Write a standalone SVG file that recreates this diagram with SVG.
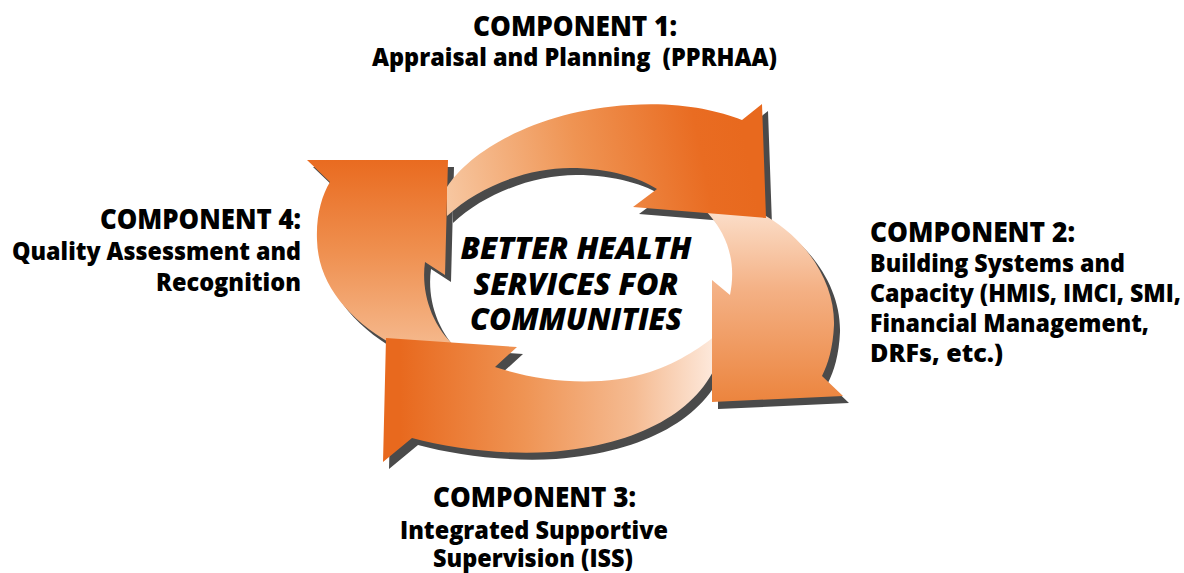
<svg xmlns="http://www.w3.org/2000/svg" xmlns:xlink="http://www.w3.org/1999/xlink" width="1184" height="573" viewBox="0 0 1184 573">
<style>
.t{font-family:"Open Sans","Liberation Sans",Arial,sans-serif;font-weight:800;fill:#000;}
.h{font-size:28px;}
.b{font-size:25px;}
.c{font-size:30px;font-style:italic;}
.shadow{fill:#4a4a4a;}
</style>
<defs>
<linearGradient id="g1" gradientUnits="userSpaceOnUse" x1="447" y1="200" x2="745" y2="140">
<stop offset="0" stop-color="#f7c7a1"/>
<stop offset="0.45" stop-color="#ef9453"/>
<stop offset="0.85" stop-color="#e96c22"/>
<stop offset="1" stop-color="#e8691e"/>
</linearGradient>
<linearGradient id="g2" gradientUnits="userSpaceOnUse" x1="0" y1="215" x2="0" y2="400">
<stop offset="0" stop-color="#fbdcc6"/>
<stop offset="0.4" stop-color="#f4b185"/>
<stop offset="1" stop-color="#ec853f"/>
</linearGradient>
<linearGradient id="g3" gradientUnits="userSpaceOnUse" x1="400" y1="0" x2="712" y2="0">
<stop offset="0" stop-color="#e8691e"/>
<stop offset="0.4" stop-color="#ef9454"/>
<stop offset="0.75" stop-color="#f5bb92"/>
<stop offset="1" stop-color="#fde8da"/>
</linearGradient>
<linearGradient id="g4" gradientUnits="userSpaceOnUse" x1="0" y1="160" x2="0" y2="345">
<stop offset="0" stop-color="#e96b20"/>
<stop offset="0.5" stop-color="#ef9050"/>
<stop offset="1" stop-color="#f5b88c"/>
</linearGradient>
<path id="a1" d="M447,187 C470,150 540,110 630,105 C680,102 715,110 742,120 L762,104 L766,218 L633,207 L657,189 C640,178 610,168 570,168 C530,168 480,185 447,216 Z"/>
<path id="a2" d="M706,211 L766,216 C810,242 835,285 834,325 C833,348 828,364 822,376 L843,396 L712,402 L712,280 L730,295 C735,270 733,240 706,211 Z"/>
<path id="a3" d="M718,333 L718,360 C700,410 640,445 550,452 C500,455 450,448 412,438 L383,462 L386,338 L517,347 L495,367 C540,382 600,388 650,372 C680,362 705,345 718,333 Z"/>
<path id="a4" d="M448,160 L445,275 L425,262 C421,290 430,325 457,348 L399,348 C350,322 318,285 317,240 C316,215 322,195 330,182 L307,160 Z"/>
</defs>
<g id="connectors">
<g id="shadows" transform="translate(6,7)">
<use xlink:href="#a1" href="#a1" class="shadow"/>
<use xlink:href="#a2" href="#a2" class="shadow"/>
<use xlink:href="#a3" href="#a3" class="shadow"/>
<use xlink:href="#a4" href="#a4" class="shadow"/>
</g>
<use id="arrow4" xlink:href="#a4" href="#a4" fill="url(#g4)"/>
<use id="arrow3" xlink:href="#a3" href="#a3" fill="url(#g3)"/>
<use id="arrow2" xlink:href="#a2" href="#a2" fill="url(#g2)"/>
<use id="arrow1" xlink:href="#a1" href="#a1" fill="url(#g1)"/>
</g>
<g id="node-center">
<text class="t c" x="576" y="259" text-anchor="middle" textLength="231" lengthAdjust="spacingAndGlyphs">BETTER HEALTH</text>
<text class="t c" x="576" y="295" text-anchor="middle" textLength="205" lengthAdjust="spacingAndGlyphs">SERVICES FOR</text>
<text class="t c" x="576" y="330" text-anchor="middle" textLength="212" lengthAdjust="spacingAndGlyphs">COMMUNITIES</text>
</g>
<g id="node-c1">
<text class="t h" x="575" y="36" text-anchor="middle" textLength="204" lengthAdjust="spacingAndGlyphs">COMPONENT 1:</text>
<text class="t b" x="574.5" y="66" text-anchor="middle" textLength="405" lengthAdjust="spacingAndGlyphs" xml:space="preserve">Appraisal and Planning  (PPRHAA)</text>
</g>
<g id="node-c2">
<text class="t h" x="870" y="242" textLength="205" lengthAdjust="spacingAndGlyphs">COMPONENT 2:</text>
<text class="t b" x="870" y="272" textLength="255" lengthAdjust="spacingAndGlyphs">Building Systems and</text>
<text class="t b" x="870" y="302" textLength="311" lengthAdjust="spacingAndGlyphs">Capacity (HMIS, IMCI, SMI,</text>
<text class="t b" x="870" y="332" textLength="279" lengthAdjust="spacingAndGlyphs">Financial Management,</text>
<text class="t b" x="870" y="362" textLength="133" lengthAdjust="spacingAndGlyphs">DRFs, etc.)</text>
</g>
<g id="node-c3">
<text class="t h" x="534.5" y="507" text-anchor="middle" textLength="203" lengthAdjust="spacingAndGlyphs">COMPONENT 3:</text>
<text class="t b" x="534" y="539" text-anchor="middle" textLength="268" lengthAdjust="spacingAndGlyphs">Integrated Supportive</text>
<text class="t b" x="533" y="567" text-anchor="middle" textLength="200" lengthAdjust="spacingAndGlyphs">Supervision (ISS)</text>
</g>
<g id="node-c4">
<text class="t h" x="301" y="229" text-anchor="end" textLength="201" lengthAdjust="spacingAndGlyphs">COMPONENT 4:</text>
<text class="t b" x="301" y="260" text-anchor="end" textLength="289" lengthAdjust="spacingAndGlyphs">Quality Assessment and</text>
<text class="t b" x="301" y="291" text-anchor="end" textLength="145" lengthAdjust="spacingAndGlyphs">Recognition</text>
</g>
</svg>
